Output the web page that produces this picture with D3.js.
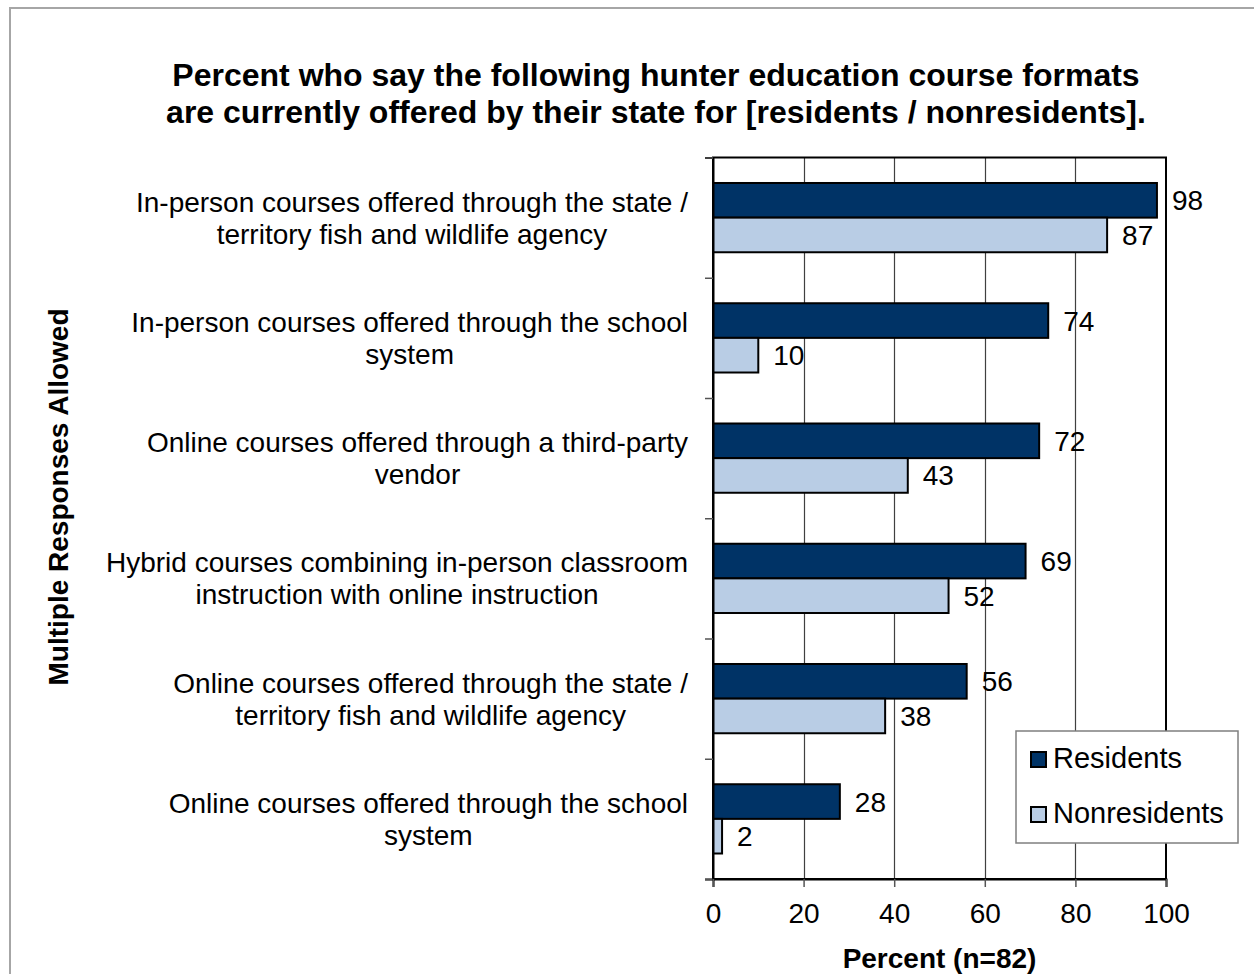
<!DOCTYPE html>
<html>
<head>
<meta charset="utf-8">
<script src="https://cdn.jsdelivr.net/npm/d3@7/dist/d3.min.js"></script>
<style>
  html, body { margin: 0; padding: 0; background: #fff; }
  svg { display: block; font-family: "Liberation Sans", Arial, sans-serif; }
</style>
</head>
<body>
<svg id="chart" width="1254" height="974"></svg>
<script>
// Course formats (each label split into its two display lines)
const categories = [
  ["In-person courses offered through the state /", "territory fish and wildlife agency"],
  ["In-person courses offered through the school", "system"],
  ["Online courses offered through a third-party", "vendor"],
  ["Hybrid courses combining in-person classroom", "instruction with online instruction"],
  ["Online courses offered through the state /", "territory fish and wildlife agency"],
  ["Online courses offered through the school", "system"]
];
const residents    = [98, 74, 72, 69, 56, 28];
const nonresidents = [87, 10, 43, 52, 38, 2];
const seriesNames  = ["Residents", "Nonresidents"];
const xTicks       = [0, 20, 40, 60, 80, 100];
const titleLines   = [
  "Percent who say the following hunter education course formats",
  "are currently offered by their state for [residents / nonresidents]."
];
const xTitle = "Percent (n=82)";
const yTitle = "Multiple Responses Allowed";

const colors = ["#003366", "#B9CDE5"];

const svg = d3.select("#chart");
const W = 1254, H = 974;
const plot = { left: 713, right: 1166, top: 157.5, bottom: 879 };
const labelRight = 688;

// Outer frame
svg.append("rect")
  .attr("x", 10).attr("y", 8)
  .attr("width", W).attr("height", H)
  .attr("fill", "#fff").attr("stroke", "#a6a6a6").attr("stroke-width", 2);

// Title
const titleCx = 656;
svg.append("g").selectAll("text").data(titleLines).join("text")
  .attr("x", titleCx)
  .attr("y", (d, i) => 86 + i * 37)
  .attr("text-anchor", "middle")
  .attr("font-size", 32).attr("font-weight", "bold").attr("fill", "#000")
  .text(d => d);

const x = d3.scaleLinear().domain([0, 100]).range([plot.left, plot.right]);
const y = d3.scaleBand().domain(d3.range(categories.length))
  .range([plot.top, plot.bottom]).paddingInner(0).paddingOuter(0);
const barH = y.bandwidth() * 0.288;

// Vertical gridlines
svg.append("g").selectAll("line").data(xTicks.filter(t => t > 0 && t < 100)).join("line")
  .attr("x1", d => Math.round(x(d)) + 0.5).attr("x2", d => Math.round(x(d)) + 0.5)
  .attr("y1", plot.top).attr("y2", plot.bottom)
  .attr("stroke", "#404040").attr("stroke-width", 1.2);

// Bars
const groups = svg.append("g").selectAll("g").data(categories).join("g")
  .attr("transform", (d, i) => `translate(0,${y(i) + y.bandwidth() / 2})`);

[residents, nonresidents].forEach((vals, s) => {
  groups.append("rect")
    .attr("x", x(0))
    .attr("y", s === 0 ? -barH : 0)
    .attr("width", (d, i) => x(vals[i]) - x(0))
    .attr("height", barH)
    .attr("fill", colors[s])
    .attr("stroke", "#000").attr("stroke-width", 2);
  groups.append("text")
    .attr("x", (d, i) => x(vals[i]) + 15)
    .attr("y", (s === 0 ? -barH / 2 : barH / 2) + 10)
    .attr("font-size", 28).attr("fill", "#000")
    .text((d, i) => vals[i]);
});

// Category labels: centred block whose widest line ends at labelRight
groups.each(function(lines) {
  const t = d3.select(this).append("text")
    .attr("text-anchor", "middle").attr("font-size", 28).attr("fill", "#000");
  const spans = lines.map((ln, k) =>
    t.append("tspan").attr("y", k === 0 ? -6 : 26).text(ln));
  const widest = d3.max(spans, sp => sp.node().getComputedTextLength());
  spans.forEach(sp => sp.attr("x", labelRight - widest / 2));
});

// Plot frame
svg.append("rect")
  .attr("x", plot.left).attr("y", plot.top)
  .attr("width", plot.right - plot.left).attr("height", plot.bottom - plot.top)
  .attr("fill", "none").attr("stroke", "#000").attr("stroke-width", 2);

// Y axis (category ticks at band boundaries)
const yAxis = d3.axisLeft(d3.scaleLinear().domain([0, categories.length]).range([plot.top, plot.bottom]))
  .tickValues(d3.range(categories.length + 1)).tickSize(8).tickFormat("");
svg.append("g").attr("transform", `translate(${plot.left},0)`).call(yAxis)
  .call(g => g.select(".domain").attr("stroke", "#000").attr("stroke-width", 2))
  .call(g => g.selectAll(".tick line").attr("stroke", "#555").attr("stroke-width", 1.5));

// X axis
const xAxis = d3.axisBottom(x).tickValues(xTicks).tickSize(8).tickPadding(16);
svg.append("g").attr("transform", `translate(0,${plot.bottom})`).call(xAxis)
  .call(g => g.select(".domain").attr("stroke", "#000").attr("stroke-width", 2))
  .call(g => g.selectAll(".tick line").attr("stroke", "#555").attr("stroke-width", 1.5))
  .call(g => g.selectAll(".tick text")
    .attr("font-size", 28).attr("fill", "#000")
    .attr("font-family", "'Liberation Sans', Arial, sans-serif"));

// Axis titles
svg.append("text")
  .attr("x", (plot.left + plot.right) / 2).attr("y", 968)
  .attr("text-anchor", "middle").attr("font-size", 28).attr("font-weight", "bold")
  .text(xTitle);
svg.append("text")
  .attr("transform", `translate(68,497) rotate(-90)`)
  .attr("text-anchor", "middle").attr("font-size", 28).attr("font-weight", "bold")
  .text(yTitle);

// Legend
const lg = svg.append("g").attr("transform", "translate(1016,731)");
lg.append("rect").attr("width", 222).attr("height", 112)
  .attr("fill", "#fff").attr("stroke", "#7f7f7f").attr("stroke-width", 1.5);
seriesNames.forEach((name, i) => {
  const row = lg.append("g").attr("transform", `translate(0,${i * 55})`);
  row.append("rect").attr("x", 15).attr("y", 21).attr("width", 15).attr("height", 15)
    .attr("fill", colors[i]).attr("stroke", "#000").attr("stroke-width", 2);
  row.append("text").attr("x", 37).attr("y", 37)
    .attr("font-size", 29).attr("fill", "#000").text(name);
});
</script>
</body>
</html>
